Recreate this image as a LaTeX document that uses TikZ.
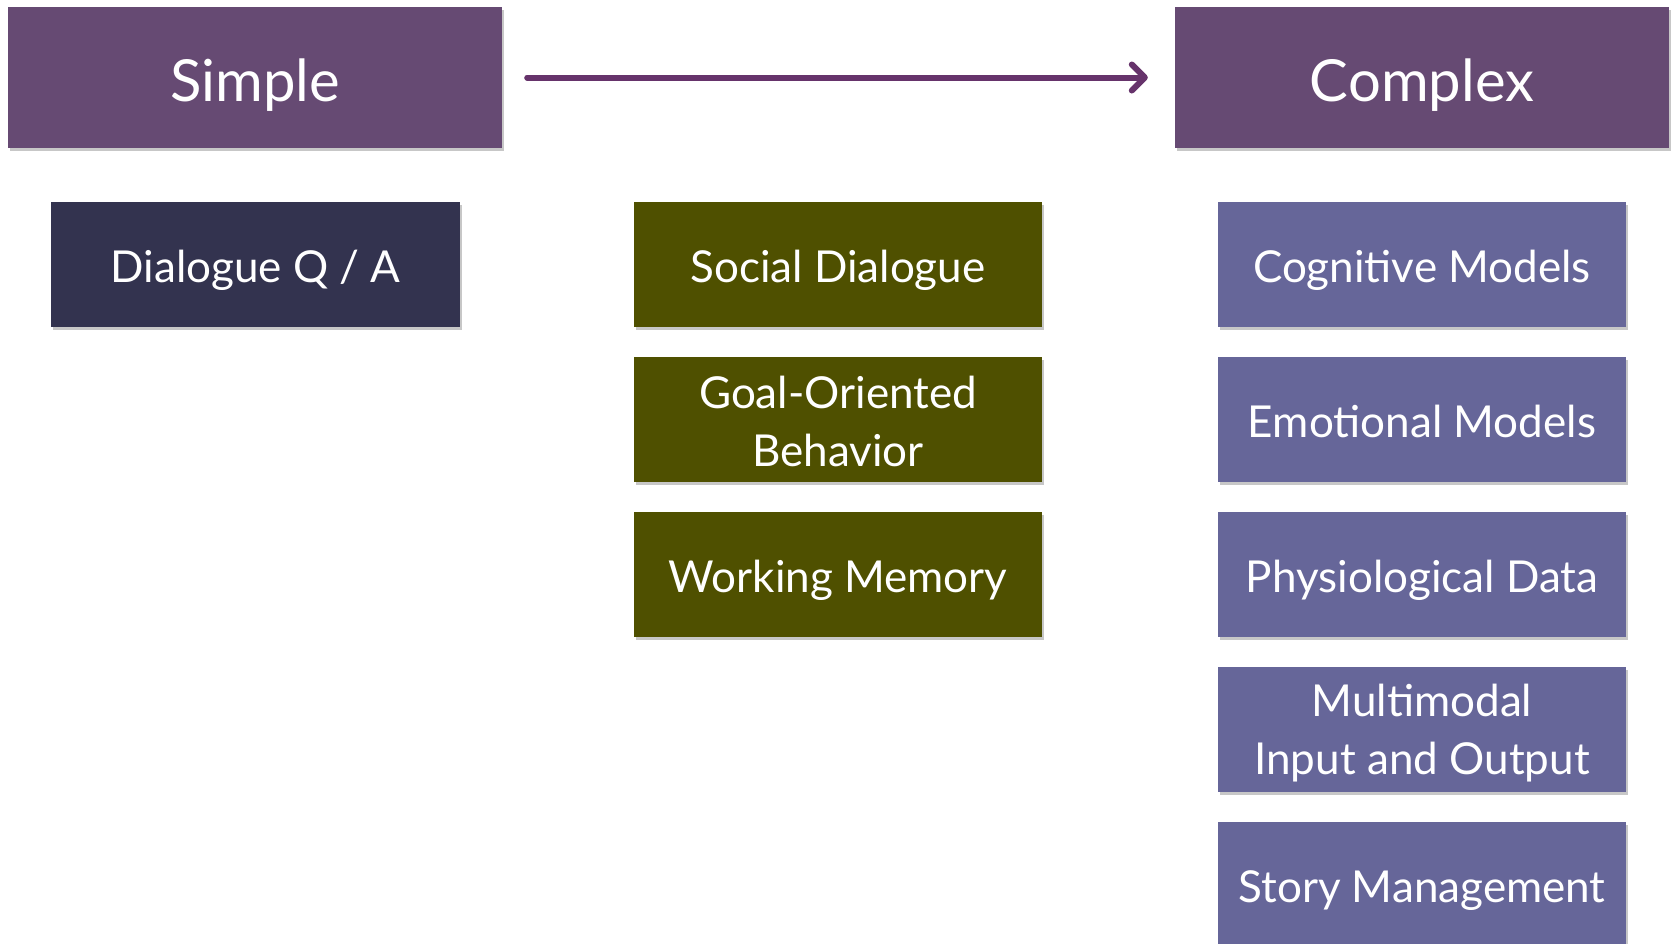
\documentclass[tikz,border=0pt]{standalone}
\usepackage{fontspec}
\setmainfont{Lato}
\usetikzlibrary{shadows,arrows.meta}
\definecolor{hdr}{HTML}{664A73}
\definecolor{navy}{HTML}{33334F}
\definecolor{olive}{HTML}{4F5000}
\definecolor{lav}{HTML}{666699}
\definecolor{arr}{HTML}{66336B}
\tikzset{
  box/.style={rectangle, inner sep=0pt, text=white, align=center,
    drop shadow={shadow xshift=2pt, shadow yshift=-3pt, opacity=0.22, fill=black}},
  hdrbox/.style={box, fill=hdr, minimum width=494pt, minimum height=141pt,
    font=\fontsize{58}{70}\selectfont, text height=48pt, text depth=0pt},
  itembox/.style={box, minimum width=408pt, minimum height=125pt,
    font=\fontsize{44}{58}\selectfont},
  oneline/.style={text height=36pt, text depth=0pt},
  qa/.style={itembox, fill=navy, minimum width=409pt},
  mid/.style={itembox, fill=olive},
  rgt/.style={itembox, fill=lav},
  flow/.style={draw=arr, line width=6pt, line cap=round,
    -{Straight Barb[length=13pt, width=26pt, line width=6pt, round]}}
}
\begin{document}
\begin{tikzpicture}[x=1pt, y=-1pt]
\useasboundingbox (0,0) rectangle (1672,943);
\clip (0,0) rectangle (1672,943);
\fill[white] (0,0) rectangle (1672,943);
\node[hdrbox] (simple) at (255,77.5) {Simple};
\node[hdrbox] (complex) at (1422,77.5) {Complex};
\node[qa, oneline] (qa) at (255.5,264.5) {Dialogue Q / A};
\node[mid, oneline] (social) at (838,264.5) {Social Dialogue};
\node[mid] (goal) at (838,419.5) {\rule{0pt}{37pt}Goal-Oriented\\Behavior};
\node[mid, oneline] (work) at (838,574.5) {Working Memory};
\node[rgt, oneline] (cog) at (1422,264.5) {Cognitive Models};
\node[rgt, oneline] (emo) at (1422,419.5) {Emotional Models};
\node[rgt, oneline] (phys) at (1422,574.5) {Physiological Data};
\node[rgt] (multi) at (1422,729) {\rule{0pt}{41pt}Multimodal\\Input and Output};
\node[rgt, oneline] (story) at (1422,884) {Story Management};
\draw[flow, shorten <=25pt, shorten >=27pt] (simple.east) -- (complex.west);
\end{tikzpicture}
\end{document}
